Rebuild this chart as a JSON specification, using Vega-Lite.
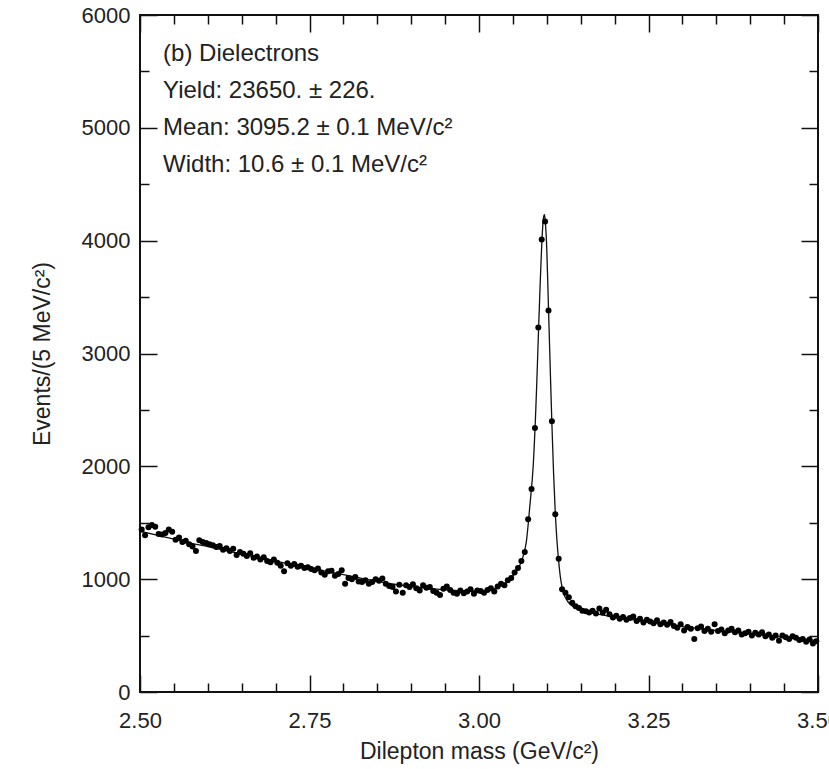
{
  "$schema": "https://vega.github.io/schema/vega-lite/v6.json",
  "width": 678,
  "height": 677,
  "autosize": {"type": "none"},
  "padding": {"left": 140, "top": 15, "right": 11, "bottom": 77},
  "background": "white",
  "config": {
    "view": {"stroke": "#111", "strokeWidth": 2},
    "axis": {
      "domain": false,
      "grid": false,
      "tickColor": "#111",
      "tickWidth": 1.5,
      "labelFont": "Liberation Sans",
      "labelFontSize": 22,
      "labelColor": "#222",
      "titleFont": "Liberation Sans",
      "titleFontSize": 23,
      "titleFontWeight": "normal",
      "titleColor": "#222"
    }
  },
  "datasets": {
    "hist": [
      {"m":2.5025,"n":1440},{"m":2.5075,"n":1390},{"m":2.5125,"n":1460},{"m":2.5175,"n":1480},{"m":2.5225,"n":1465},
      {"m":2.5275,"n":1400},{"m":2.5325,"n":1395},{"m":2.5375,"n":1410},{"m":2.5425,"n":1440},{"m":2.5475,"n":1420},
      {"m":2.5525,"n":1350},{"m":2.5575,"n":1370},{"m":2.5625,"n":1330},{"m":2.5675,"n":1340},{"m":2.5725,"n":1310},
      {"m":2.5775,"n":1290},{"m":2.5825,"n":1250},{"m":2.5875,"n":1345},{"m":2.5925,"n":1330},{"m":2.5975,"n":1320},
      {"m":2.6025,"n":1310},{"m":2.6075,"n":1300},{"m":2.6125,"n":1285},{"m":2.6175,"n":1295},{"m":2.6225,"n":1260},
      {"m":2.6275,"n":1275},{"m":2.6325,"n":1250},{"m":2.6375,"n":1270},{"m":2.6425,"n":1215},{"m":2.6475,"n":1240},
      {"m":2.6525,"n":1225},{"m":2.6575,"n":1205},{"m":2.6625,"n":1230},{"m":2.6675,"n":1190},{"m":2.6725,"n":1200},
      {"m":2.6775,"n":1175},{"m":2.6825,"n":1195},{"m":2.6875,"n":1160},{"m":2.6925,"n":1150},{"m":2.6975,"n":1175},
      {"m":2.7025,"n":1145},{"m":2.7075,"n":1120},{"m":2.7125,"n":1070},{"m":2.7175,"n":1140},{"m":2.7225,"n":1120},
      {"m":2.7275,"n":1135},{"m":2.7325,"n":1110},{"m":2.7375,"n":1120},{"m":2.7425,"n":1100},{"m":2.7475,"n":1105},
      {"m":2.7525,"n":1090},{"m":2.7575,"n":1080},{"m":2.7625,"n":1095},{"m":2.7675,"n":1060},{"m":2.7725,"n":1040},
      {"m":2.7775,"n":1070},{"m":2.7825,"n":1075},{"m":2.7875,"n":1030},{"m":2.7925,"n":1045},{"m":2.7975,"n":1080},
      {"m":2.8025,"n":960},{"m":2.8075,"n":1010},{"m":2.8125,"n":1000},{"m":2.8175,"n":1020},{"m":2.8225,"n":980},
      {"m":2.8275,"n":975},{"m":2.8325,"n":990},{"m":2.8375,"n":960},{"m":2.8425,"n":975},{"m":2.8475,"n":1000},
      {"m":2.8525,"n":985},{"m":2.8575,"n":1005},{"m":2.8625,"n":960},{"m":2.8675,"n":940},{"m":2.8725,"n":930},
      {"m":2.8775,"n":890},{"m":2.8825,"n":950},{"m":2.8875,"n":880},{"m":2.8925,"n":945},{"m":2.8975,"n":930},
      {"m":2.9025,"n":955},{"m":2.9075,"n":920},{"m":2.9125,"n":900},{"m":2.9175,"n":945},{"m":2.9225,"n":925},
      {"m":2.9275,"n":930},{"m":2.9325,"n":895},{"m":2.9375,"n":880},{"m":2.9425,"n":860},{"m":2.9475,"n":915},
      {"m":2.9525,"n":935},{"m":2.9575,"n":905},{"m":2.9625,"n":880},{"m":2.9675,"n":870},{"m":2.9725,"n":900},
      {"m":2.9775,"n":875},{"m":2.9825,"n":890},{"m":2.9875,"n":910},{"m":2.9925,"n":870},{"m":2.9975,"n":900},
      {"m":3.0025,"n":895},{"m":3.0075,"n":880},{"m":3.0125,"n":905},{"m":3.0175,"n":920},{"m":3.0225,"n":890},
      {"m":3.0275,"n":935},{"m":3.0325,"n":960},{"m":3.0375,"n":945},{"m":3.0425,"n":990},{"m":3.0475,"n":1010},
      {"m":3.0525,"n":1060},{"m":3.0575,"n":1100},{"m":3.0625,"n":1160},{"m":3.0675,"n":1240},{"m":3.0725,"n":1530},
      {"m":3.0775,"n":1800},{"m":3.0825,"n":2340},{"m":3.0875,"n":3230},{"m":3.0925,"n":4010},{"m":3.0975,"n":4170},
      {"m":3.1025,"n":3380},{"m":3.1075,"n":2400},{"m":3.1125,"n":1575},{"m":3.1175,"n":1180},{"m":3.1225,"n":910},
      {"m":3.1275,"n":880},{"m":3.1325,"n":840},{"m":3.1375,"n":790},{"m":3.1425,"n":760},{"m":3.1475,"n":745},
      {"m":3.1525,"n":720},{"m":3.1575,"n":715},{"m":3.1625,"n":705},{"m":3.1675,"n":720},{"m":3.1725,"n":695},
      {"m":3.1775,"n":740},{"m":3.1825,"n":705},{"m":3.1875,"n":730},{"m":3.1925,"n":690},{"m":3.1975,"n":660},
      {"m":3.2025,"n":675},{"m":3.2075,"n":650},{"m":3.2125,"n":665},{"m":3.2175,"n":640},{"m":3.2225,"n":655},
      {"m":3.2275,"n":670},{"m":3.2325,"n":630},{"m":3.2375,"n":650},{"m":3.2425,"n":615},{"m":3.2475,"n":640},
      {"m":3.2525,"n":625},{"m":3.2575,"n":610},{"m":3.2625,"n":635},{"m":3.2675,"n":600},{"m":3.2725,"n":615},
      {"m":3.2775,"n":595},{"m":3.2825,"n":620},{"m":3.2875,"n":585},{"m":3.2925,"n":570},{"m":3.2975,"n":600},
      {"m":3.3025,"n":545},{"m":3.3075,"n":575},{"m":3.3125,"n":560},{"m":3.3175,"n":470},{"m":3.3225,"n":565},
      {"m":3.3275,"n":580},{"m":3.3325,"n":540},{"m":3.3375,"n":560},{"m":3.3425,"n":535},{"m":3.3475,"n":600},
      {"m":3.3525,"n":540},{"m":3.3575,"n":555},{"m":3.3625,"n":520},{"m":3.3675,"n":545},{"m":3.3725,"n":560},
      {"m":3.3775,"n":530},{"m":3.3825,"n":545},{"m":3.3875,"n":510},{"m":3.3925,"n":520},{"m":3.3975,"n":535},
      {"m":3.4025,"n":500},{"m":3.4075,"n":525},{"m":3.4125,"n":510},{"m":3.4175,"n":530},{"m":3.4225,"n":495},
      {"m":3.4275,"n":510},{"m":3.4325,"n":480},{"m":3.4375,"n":500},{"m":3.4425,"n":455},{"m":3.4475,"n":500},
      {"m":3.4525,"n":485},{"m":3.4575,"n":470},{"m":3.4625,"n":495},{"m":3.4675,"n":480},{"m":3.4725,"n":460},
      {"m":3.4775,"n":470},{"m":3.4825,"n":445},{"m":3.4875,"n":465},{"m":3.4925,"n":430},{"m":3.4975,"n":450}
    ],
    "fit": [
      {"m":2.5,"n":1425},{"m":2.525,"n":1390},{"m":2.55,"n":1355},{"m":2.575,"n":1320},{"m":2.6,"n":1288},
      {"m":2.625,"n":1255},{"m":2.65,"n":1222},{"m":2.675,"n":1190},{"m":2.7,"n":1160},{"m":2.725,"n":1130},
      {"m":2.75,"n":1100},{"m":2.775,"n":1070},{"m":2.8,"n":1040},{"m":2.825,"n":1010},{"m":2.85,"n":980},
      {"m":2.875,"n":955},{"m":2.9,"n":935},{"m":2.925,"n":918},{"m":2.95,"n":905},{"m":2.975,"n":897},
      {"m":3.0,"n":895},{"m":3.01,"n":900},{"m":3.02,"n":912},{"m":3.03,"n":935},{"m":3.04,"n":970},
      {"m":3.05,"n":1030},{"m":3.055,"n":1070},{"m":3.06,"n":1120},{"m":3.065,"n":1200},{"m":3.07,"n":1340},
      {"m":3.075,"n":1650},{"m":3.08,"n":2010},{"m":3.085,"n":2700},{"m":3.0875,"n":3150},{"m":3.09,"n":3580},
      {"m":3.0925,"n":3960},{"m":3.095,"n":4200},{"m":3.0965,"n":4230},{"m":3.0975,"n":4190},{"m":3.1,"n":3920},
      {"m":3.1025,"n":3400},{"m":3.105,"n":2880},{"m":3.1075,"n":2380},{"m":3.11,"n":1940},{"m":3.1125,"n":1590},
      {"m":3.115,"n":1340},{"m":3.1175,"n":1160},{"m":3.12,"n":1020},{"m":3.1225,"n":930},{"m":3.125,"n":870},
      {"m":3.13,"n":810},{"m":3.135,"n":775},{"m":3.14,"n":752},{"m":3.15,"n":725},{"m":3.16,"n":708},
      {"m":3.175,"n":690},{"m":3.2,"n":665},{"m":3.225,"n":642},{"m":3.25,"n":620},{"m":3.275,"n":600},
      {"m":3.3,"n":580},{"m":3.325,"n":562},{"m":3.35,"n":545},{"m":3.375,"n":530},{"m":3.4,"n":515},
      {"m":3.425,"n":500},{"m":3.45,"n":485},{"m":3.475,"n":470},{"m":3.5,"n":455}
    ]
  },
  "layer": [
    {
      "data": {"name": "fit"},
      "mark": {"type": "line", "color": "#111", "strokeWidth": 1.3, "interpolate": "monotone", "clip": true},
      "encoding": {
        "x": {"field": "m", "type": "quantitative",
          "scale": {"domain": [2.5, 3.5], "nice": false, "zero": false},
          "axis": {"orient": "bottom", "title": "Dilepton mass (GeV/c²)", "values": [2.5, 2.75, 3.0, 3.25, 3.5], "format": ".2f", "tickSize": -17, "labelPadding": 35, "titlePadding": 9, "labelFlush": false}},
        "y": {"field": "n", "type": "quantitative",
          "scale": {"domain": [0, 6000], "nice": false},
          "axis": {"orient": "left", "title": "Events/(5 MeV/c²)", "values": [0, 1000, 2000, 3000, 4000, 5000, 6000], "format": "d", "tickSize": -17, "labelPadding": 27, "titlePadding": 27, "labelFlush": false}}
      }
    },
    {
      "data": {"name": "hist"},
      "mark": {"type": "point", "filled": true, "color": "#000", "size": 36, "opacity": 1, "strokeWidth": 0},
      "encoding": {
        "x": {"field": "m", "type": "quantitative",
          "scale": {"domain": [2.5, 3.5], "nice": false, "zero": false},
          "axis": {"orient": "bottom", "title": null, "labels": false, "values": [2.55, 2.6, 2.65, 2.7, 2.8, 2.85, 2.9, 2.95, 3.05, 3.1, 3.15, 3.2, 3.3, 3.35, 3.4, 3.45], "tickSize": -9}},
        "y": {"field": "n", "type": "quantitative",
          "scale": {"domain": [0, 6000], "nice": false},
          "axis": {"orient": "left", "title": null, "labels": false, "values": [500, 1500, 2500, 3500, 4500, 5500], "tickSize": -9}}
      }
    },
    {
      "data": {"name": "hist"},
      "mark": {"type": "point", "opacity": 0},
      "encoding": {
        "x": {"field": "m", "type": "quantitative",
          "scale": {"domain": [2.5, 3.5], "nice": false, "zero": false},
          "axis": {"orient": "top", "title": null, "labels": false, "values": [2.5, 2.75, 3.0, 3.25, 3.5], "tickSize": -17}},
        "y": {"field": "n", "type": "quantitative",
          "scale": {"domain": [0, 6000], "nice": false},
          "axis": {"orient": "right", "title": null, "labels": false, "values": [0, 1000, 2000, 3000, 4000, 5000, 6000], "tickSize": -17}}
      }
    },
    {
      "data": {"name": "hist"},
      "mark": {"type": "point", "opacity": 0},
      "encoding": {
        "x": {"field": "m", "type": "quantitative",
          "scale": {"domain": [2.5, 3.5], "nice": false, "zero": false},
          "axis": {"orient": "top", "title": null, "labels": false, "values": [2.55, 2.6, 2.65, 2.7, 2.8, 2.85, 2.9, 2.95, 3.05, 3.1, 3.15, 3.2, 3.3, 3.35, 3.4, 3.45], "tickSize": -9}},
        "y": {"field": "n", "type": "quantitative",
          "scale": {"domain": [0, 6000], "nice": false},
          "axis": {"orient": "right", "title": null, "labels": false, "values": [500, 1500, 2500, 3500, 4500, 5500], "tickSize": -9}}
      }
    },
    {
      "data": {"values": [{}]},
      "mark": {"type": "text", "align": "left", "baseline": "alphabetic", "font": "Liberation Sans", "fontSize": 24, "lineHeight": 37, "color": "#222"},
      "encoding": {
        "x": {"datum": 2.534, "type": "quantitative", "axis": null},
        "y": {"datum": 5592, "type": "quantitative", "axis": null},
        "text": {"value": ["(b) Dielectrons", "Yield: 23650. ± 226.", "Mean: 3095.2 ± 0.1 MeV/c²", "Width: 10.6 ± 0.1 MeV/c²"]}
      }
    }
  ],
  "resolve": {"axis": {"x": "independent", "y": "independent"}}
}
